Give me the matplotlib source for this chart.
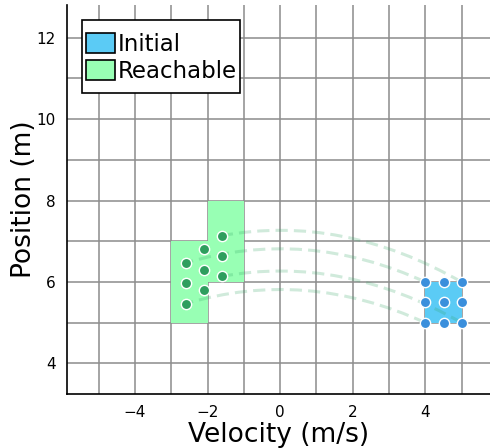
import matplotlib
matplotlib.use('Agg')
import matplotlib.pyplot as plt
from matplotlib.path import Path
from matplotlib.patches import PathPatch, Rectangle

# Initial set: velocity x position box and its sample points
init_box = (4.0, 5.0, 1.0, 1.0)  # v0, p0, width, height
init_v = [4.0, 4.5, 5.0, 4.0, 4.5, 5.0, 4.0, 4.5, 5.0]
init_p = [5.0, 5.0, 5.0, 5.5, 5.5, 5.5, 6.0, 6.0, 6.0]

# Reachable cells
reach_boxes = [(-3.0, 5.0, 1.0, 2.0), (-2.0, 6.0, 1.0, 2.0)]
reach_v = [-2.6, -2.1, -1.6, -2.6, -2.1, -1.6, -2.6, -2.1, -1.6]
reach_p = [5.47, 5.8, 6.14, 5.97, 6.3, 6.64, 6.47, 6.8, 7.14]

# Corner trajectories: start, control, end (quadratic curves)
traj = [
    [(4.0, 5.0), (0.7, 6.35), (-2.6, 5.47)],
    [(4.0, 6.0), (0.7, 7.35), (-2.6, 6.47)],
    [(5.0, 5.0), (1.7, 6.68), (-1.6, 6.14)],
    [(5.0, 6.0), (1.7, 7.68), (-1.6, 7.14)],
]

xticks = [-4, -2, 0, 2, 4]
yticks = [4, 6, 8, 10, 12]

fig = plt.figure(figsize=(4.9, 4.48), dpi=100)
ax = fig.add_axes([0.137, 0.1205, 0.863, 0.868])

for v, p, w, h in reach_boxes:
    ax.add_patch(Rectangle((v, p), w, h, facecolor='#98FFB4', edgecolor='none', zorder=2))
v, p, w, h = init_box
ax.add_patch(Rectangle((v, p), w, h, facecolor='#5BCBF5', edgecolor='none', zorder=2))

for pts in traj:
    path = Path(pts, [Path.MOVETO, Path.CURVE3, Path.CURVE3])
    ax.add_patch(PathPatch(path, facecolor='none', edgecolor='#2CA25F', alpha=0.22,
                           lw=2.2, linestyle=(0, (4, 2)), zorder=3))

ax.scatter(reach_v, reach_p, s=55, color='#2E9E5E', edgecolors='white', linewidths=1, zorder=5)
ax.scatter(init_v, init_p, s=55, color='#3A8FDC', edgecolors='white', linewidths=1, zorder=5)

ax.set_xlim(-5.87, 5.78)
ax.set_ylim(3.25, 12.8)
ax.set_xticks(xticks)
ax.set_yticks(yticks)
ax.set_xticklabels(['\u22124', '\u22122', '0', '2', '4'])
ax.set_xticks(range(-5, 6), minor=True)
ax.set_yticks(range(4, 13), minor=True)
ax.grid(True, which='both', color='#8c8c8c', lw=1.1, zorder=1)
ax.set_axisbelow(True)
ax.tick_params(which='both', length=0, labelsize=11, pad=8)
for s in ['top', 'right']:
    ax.spines[s].set_visible(False)
ax.spines['left'].set_linewidth(1.2)
ax.spines['bottom'].set_linewidth(1.2)

ax.set_xlabel('Velocity (m/s)', fontsize=19, labelpad=1)
ax.set_ylabel('Position (m)', fontsize=19, labelpad=0)

# legend frame drawn separately (wider vertical padding than horizontal)
ax.add_patch(Rectangle((0.0355, 0.774), 0.374, 0.187, transform=ax.transAxes,
                       facecolor='white', edgecolor='black', lw=1.2, zorder=6))
handles = [Rectangle((0, 0), 1, 1, facecolor='#5BCBF5', edgecolor='black', lw=1.2),
           Rectangle((0, 0), 1, 1, facecolor='#98FFB4', edgecolor='black', lw=1.2)]
leg = ax.legend(handles, ['Initial', 'Reachable'], loc='upper left', fontsize=16.5,
                bbox_to_anchor=(0.044, 0.928), borderaxespad=0, borderpad=0,
                frameon=False, handlelength=1.27, handleheight=0.95,
                handletextpad=0.12, labelspacing=0.15)
leg.set_zorder(7)

fig.savefig('out.png', dpi=100)
